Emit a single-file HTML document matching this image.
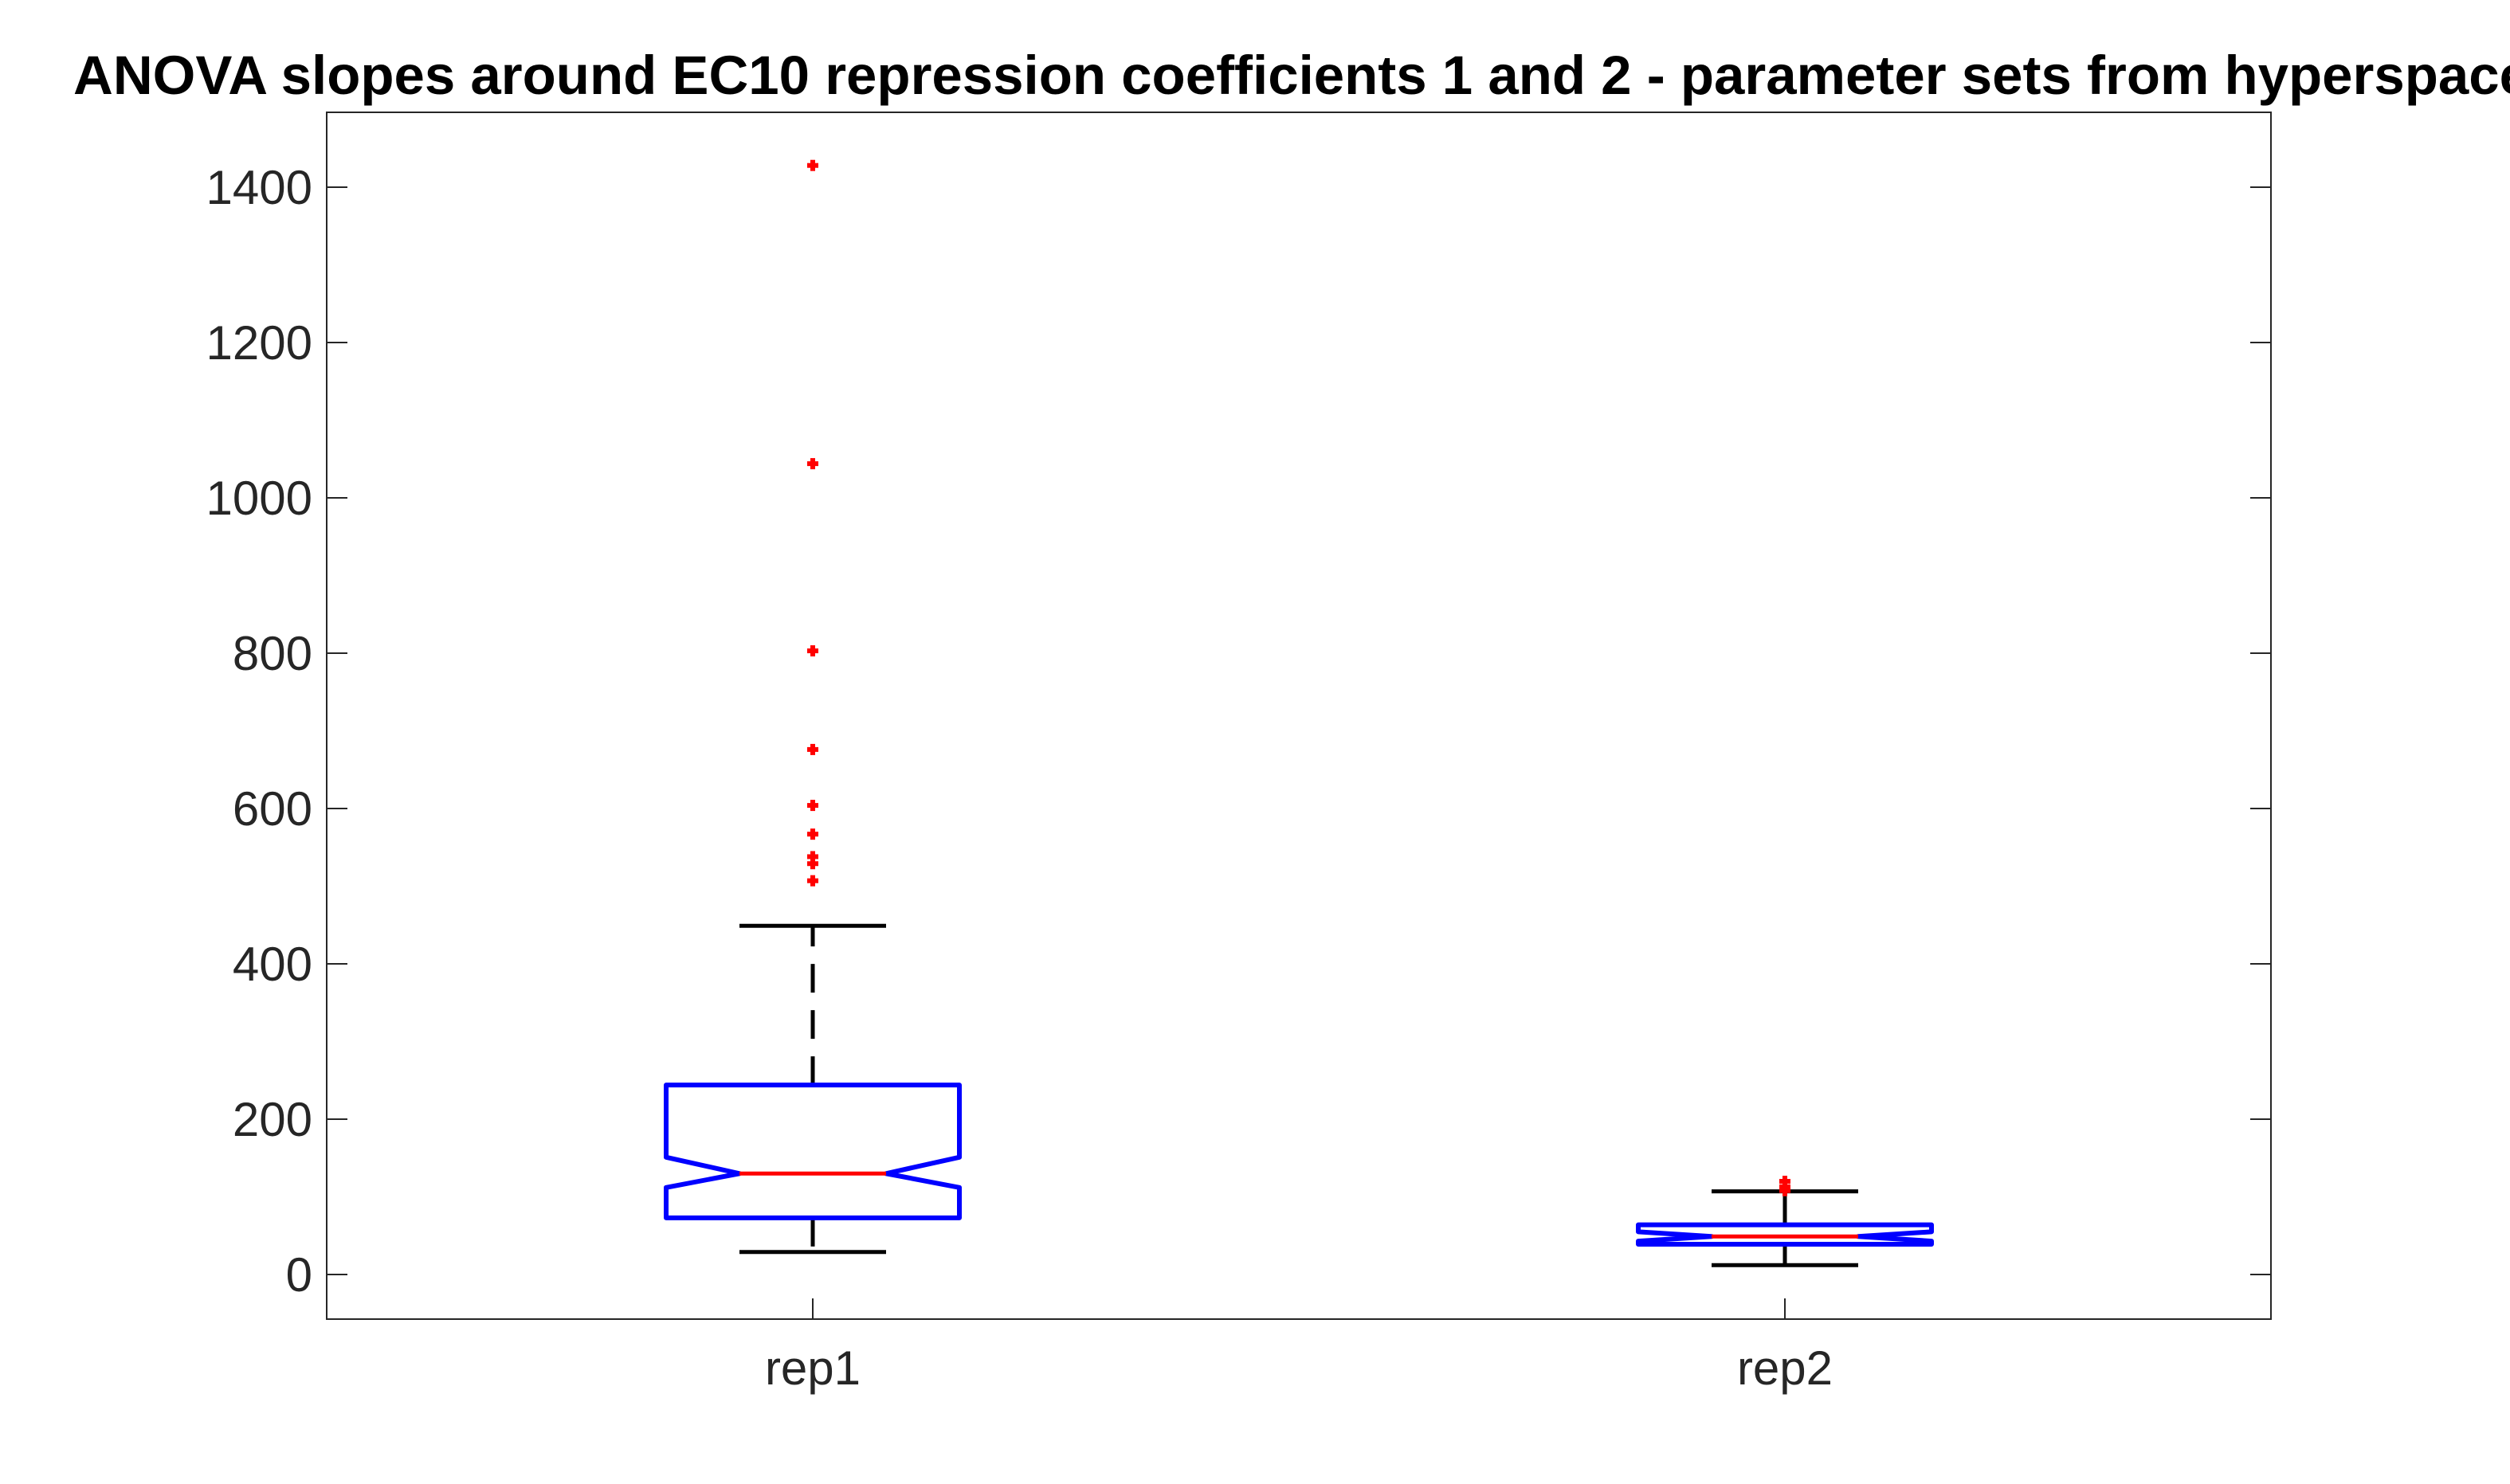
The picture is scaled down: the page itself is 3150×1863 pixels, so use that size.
<!DOCTYPE html>
<html><head><meta charset="utf-8"><style>
html,body{margin:0;padding:0;background:#fff;width:3150px;height:1863px;overflow:hidden}
svg{display:block}
text{font-family:"Liberation Sans",Arial,sans-serif}
</style></head><body>
<svg id="chart" width="3150" height="1863" viewBox="0 0 3150 1863" xmlns="http://www.w3.org/2000/svg">
<text x="92" y="118" font-size="69" font-weight="bold" fill="#000">ANOVA slopes around EC10 repression coefficients 1 and 2 - parameter sets from hyperspace</text>
<g id="axes"></g>
<g id="marks"></g>
</svg>
<script>
const categories = ["rep1", "rep2"];
const q1 = [73, 39];
const q3 = [244, 64];
const medians = [130, 49];
const notchLo = [112, 43];
const notchHi = [151, 55];
const whiskLo = [29, 12];
const whiskHi = [449, 107];
const outliers = [[1428, 1044, 803, 676, 604, 567, 538, 529, 507], [108, 113, 120]];
const yTicks = [0, 200, 400, 600, 800, 1000, 1200, 1400];

const L = 410, R = 2850, T = 141, B = 1656;
const Y0 = 1600, PX = 0.975;
function y(v){ return Y0 - v * PX; }
function x(i){ return L + (i + 0.5) * (R - L) / 2; }
const NS = "http://www.w3.org/2000/svg";
const axes = document.getElementById("axes");
const marks = document.getElementById("marks");
function el(tag, attrs, parent){ const e = document.createElementNS(NS, tag); for (const k in attrs) e.setAttribute(k, attrs[k]); parent.appendChild(e); return e; }

const frame = el("rect", {x:L, y:T, width:R-L, height:B-T, fill:"none", stroke:"#262626", "stroke-width":2}, axes);



yTicks.forEach(v => {
  const yy = y(v);
  const t1 = el("line", {x1:L, x2:L+26, y1:yy, y2:yy, stroke:"#262626", "stroke-width":2}, axes);
  
  
  const t2 = el("line", {x1:R, x2:R-26, y1:yy, y2:yy, stroke:"#262626", "stroke-width":2}, axes);
  
  
  const lb = el("text", {x:392, y:yy+21, "font-size":60, "text-anchor":"end", fill:"#262626"}, axes);
  lb.textContent = v;
  
  
});

categories.forEach((c, i) => {
  const cx = x(i);
  const tk = el("line", {x1:cx, x2:cx, y1:B, y2:B-26, stroke:"#262626", "stroke-width":2}, axes);
  
  
  const lb = el("text", {x:cx, y:1738, "font-size":60, "text-anchor":"middle", fill:"#262626"}, axes);
  lb.textContent = c;
  
  

  const hw = 184, nw = 92, cw = 92;
  const w1 = el("line", {x1:cx, x2:cx, y1:y(q3[i]), y2:y(whiskHi[i]), stroke:"#000", "stroke-width":5, "stroke-dasharray":"36,22"}, marks);
  
  
  const w2 = el("line", {x1:cx, x2:cx, y1:y(q1[i]), y2:y(whiskLo[i]), stroke:"#000", "stroke-width":5, "stroke-dasharray":"36,22"}, marks);
  
  
  const c1 = el("line", {x1:cx-cw, x2:cx+cw, y1:y(whiskHi[i]), y2:y(whiskHi[i]), stroke:"#000", "stroke-width":5}, marks);
  
  
  const c2 = el("line", {x1:cx-cw, x2:cx+cw, y1:y(whiskLo[i]), y2:y(whiskLo[i]), stroke:"#000", "stroke-width":5}, marks);
  
  

  const pts = [
    [cx-hw, y(q3[i])], [cx+hw, y(q3[i])], [cx+hw, y(notchHi[i])], [cx+nw, y(medians[i])],
    [cx+hw, y(notchLo[i])], [cx+hw, y(q1[i])], [cx-hw, y(q1[i])], [cx-hw, y(notchLo[i])],
    [cx-nw, y(medians[i])], [cx-hw, y(notchHi[i])]
  ].map(p => p.join(",")).join(" ");
  const box = el("polygon", {points:pts, fill:"none", stroke:"#0000ff", "stroke-width":6, "stroke-linejoin":"round"}, marks);
  
  
  const md = el("line", {x1:cx-nw, x2:cx+nw, y1:y(medians[i]), y2:y(medians[i]), stroke:"#ff0000", "stroke-width":5}, marks);
  
  

  outliers[i].forEach(v => {
    const o = el("g", {stroke:"#ff0000", "stroke-width":6}, marks);
    
    
    el("line", {x1:cx-7, x2:cx+7, y1:y(v), y2:y(v)}, o);
    el("line", {x1:cx, x2:cx, y1:y(v)-7, y2:y(v)+7}, o);
  });
});
</script>
</body></html>
